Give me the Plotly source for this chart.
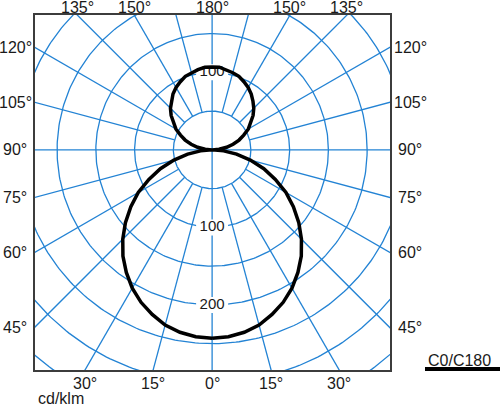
"""
Diagramme polaire d'intensité lumineuse (cd/klm) - C0/C180
"""

import numpy as np
import plotly.graph_objects as go

# ============================================================================
# DONNÉES
# ============================================================================

gamma_deg = [0, 5, 10, 15, 20, 25, 30, 35, 40, 45, 50, 55, 60, 65, 70, 75, 80, 85, 90,
             95, 100, 105, 110, 115, 120, 125, 130, 135, 140, 145, 150, 155, 160, 165, 170, 175, 180]
intensity = [243, 242, 239, 234, 226, 217, 206, 193, 179, 163, 146, 128, 110, 90, 71, 51, 32, 15, 0,
             9, 19, 28, 37, 45, 54, 61, 69, 76, 82, 88, 93, 97, 101, 103, 105, 107, 107]

# grille
grid_radii = [50, 100, 150, 200, 250, 300, 350, 400]
grid_step = 15
radius_labels_low = [100, 200]
radius_labels_up = [100]

# étiquettes d'angles
side_angles = [45, 60, 75, 90, 105, 120]
bottom_angles = [-30, -15, 0, 15, 30]
top_angles = [-135, -150, 180, 150, 135]

legend_name = "C0/C180"
unit_label = "cd/klm"

# ============================================================================
# MISE EN PAGE
# ============================================================================

W, H = 500, 406
ML, MR, MT, MB = 35, 110, 15, 36
PW = W - ML - MR
PH = H - MT - MB
X_RANGE = [-228.5, 229.5]
Y_RANGE = [-284, 174]
UNIT = PW / (X_RANGE[1] - X_RANGE[0])   # px par cd/klm

BLUE = "#2383d4"
FONT = "Arial, Liberation Sans, sans-serif"
TXT = "#1a1a1a"
FS = 16


def px_to_paper_x(px):
    return (px - ML) / PW


def px_to_paper_y(py):
    return (H - MB - py) / PH


fig = go.Figure()

# cercles
t = np.linspace(0, 2 * np.pi, 361)
cx, cy = [], []
for r in grid_radii:
    cx += list(r * np.cos(t)) + [None]
    cy += list(r * np.sin(t)) + [None]

# rayons (tous les 15°, depuis le cercle de 50 sauf axes principaux)
for a in range(0, 360, grid_step):
    rad = np.radians(a)
    r0 = 0 if a % 90 == 0 else grid_radii[0]
    cx += [r0 * np.sin(rad), 600 * np.sin(rad), None]
    cy += [-r0 * np.cos(rad), -600 * np.cos(rad), None]

fig.add_trace(go.Scatter(x=cx, y=cy, mode="lines", line=dict(color=BLUE, width=1.3),
                         hoverinfo="skip", showlegend=False))

# étiquettes de rayon : fond blanc puis texte (sous la courbe)
label_y = [-r for r in radius_labels_low] + list(radius_labels_up)
label_txt = [str(r) for r in radius_labels_low] + [str(r) for r in radius_labels_up]
hw, hh = 16 / UNIT, 8 / UNIT
bx, by = [], []
for yv in label_y:
    bx += [-hw, hw, hw, -hw, -hw, None]
    by += [yv - hh, yv - hh, yv + hh, yv + hh, yv - hh, None]
fig.add_trace(go.Scatter(x=bx, y=by, mode="lines", fill="toself", fillcolor="white",
                         line=dict(width=0, color="white"), hoverinfo="skip", showlegend=False))
fig.add_trace(go.Scatter(x=[0] * len(label_y), y=label_y, mode="text", text=label_txt,
                         textposition="middle center",
                         textfont=dict(size=15, color=TXT, family=FONT),
                         hoverinfo="skip", showlegend=False))

# courbe C0 (droite) + C180 (gauche)
g = np.radians(gamma_deg)
I = np.array(intensity, dtype=float)
x_c0 = I * np.sin(g)
y_c0 = -I * np.cos(g)
x_curve = list(x_c0) + list(-x_c0[::-1])
y_curve = list(y_c0) + list(y_c0[::-1])
fig.add_trace(go.Scatter(x=x_curve, y=y_curve, mode="lines", name=legend_name,
                         line=dict(color="black", width=3.5), showlegend=False))

# ============================================================================
# ANNOTATIONS
# ============================================================================

ann = []
for a in side_angles:
    yv = X_RANGE[1] / -np.tan(np.radians(a)) if a != 90 else 0
    for px in (15, 410):
        ann.append(dict(x=px_to_paper_x(px), xref="paper", y=yv, yref="y", text=f"{a}°",
                        showarrow=False, xanchor="center", yanchor="middle",
                        font=dict(size=FS, color=TXT, family=FONT)))

for a in bottom_angles:
    xv = -Y_RANGE[0] * np.tan(np.radians(a))
    ann.append(dict(x=xv, xref="x", y=px_to_paper_y(383), yref="paper", text=f"{abs(a)}°",
                    showarrow=False, xanchor="center", yanchor="middle",
                    font=dict(size=FS, color=TXT, family=FONT)))

for a in top_angles:
    xv = -Y_RANGE[1] * np.tan(np.radians(a))
    ann.append(dict(x=xv, xref="x", y=px_to_paper_y(7), yref="paper", text=f"{abs(a)}°",
                    showarrow=False, xanchor="center", yanchor="middle",
                    font=dict(size=FS, color=TXT, family=FONT)))

ann.append(dict(x=px_to_paper_x(36), xref="paper", y=px_to_paper_y(399), yref="paper",
                text=unit_label, showarrow=False, xanchor="left", yanchor="middle",
                font=dict(size=FS, color=TXT, family=FONT)))
ann.append(dict(x=px_to_paper_x(426), xref="paper", y=px_to_paper_y(360), yref="paper",
                text=legend_name, showarrow=False, xanchor="left", yanchor="middle",
                font=dict(size=FS, color=TXT, family=FONT)))

shapes = [dict(type="line", xref="paper", yref="paper",
               x0=px_to_paper_x(425), x1=px_to_paper_x(500),
               y0=px_to_paper_y(369), y1=px_to_paper_y(369),
               line=dict(color="black", width=4))]

axis_style = dict(showgrid=False, zeroline=False, showticklabels=False, ticks="",
                  showline=True, mirror=True, linecolor="#3c3c3c", linewidth=1.6,
                  fixedrange=True)

fig.update_layout(
    width=W, height=H,
    margin=dict(l=ML, r=MR, t=MT, b=MB),
    plot_bgcolor="white", paper_bgcolor="white",
    xaxis=dict(range=X_RANGE, **axis_style),
    yaxis=dict(range=Y_RANGE, **axis_style),
    annotations=ann,
    shapes=shapes,
    showlegend=False,
)

# pas de marge du navigateur autour du graphique
fig.write_html("out.html", config={"displayModeBar": False},
               post_script="document.body.style.margin='0';document.body.style.overflow='hidden';")
